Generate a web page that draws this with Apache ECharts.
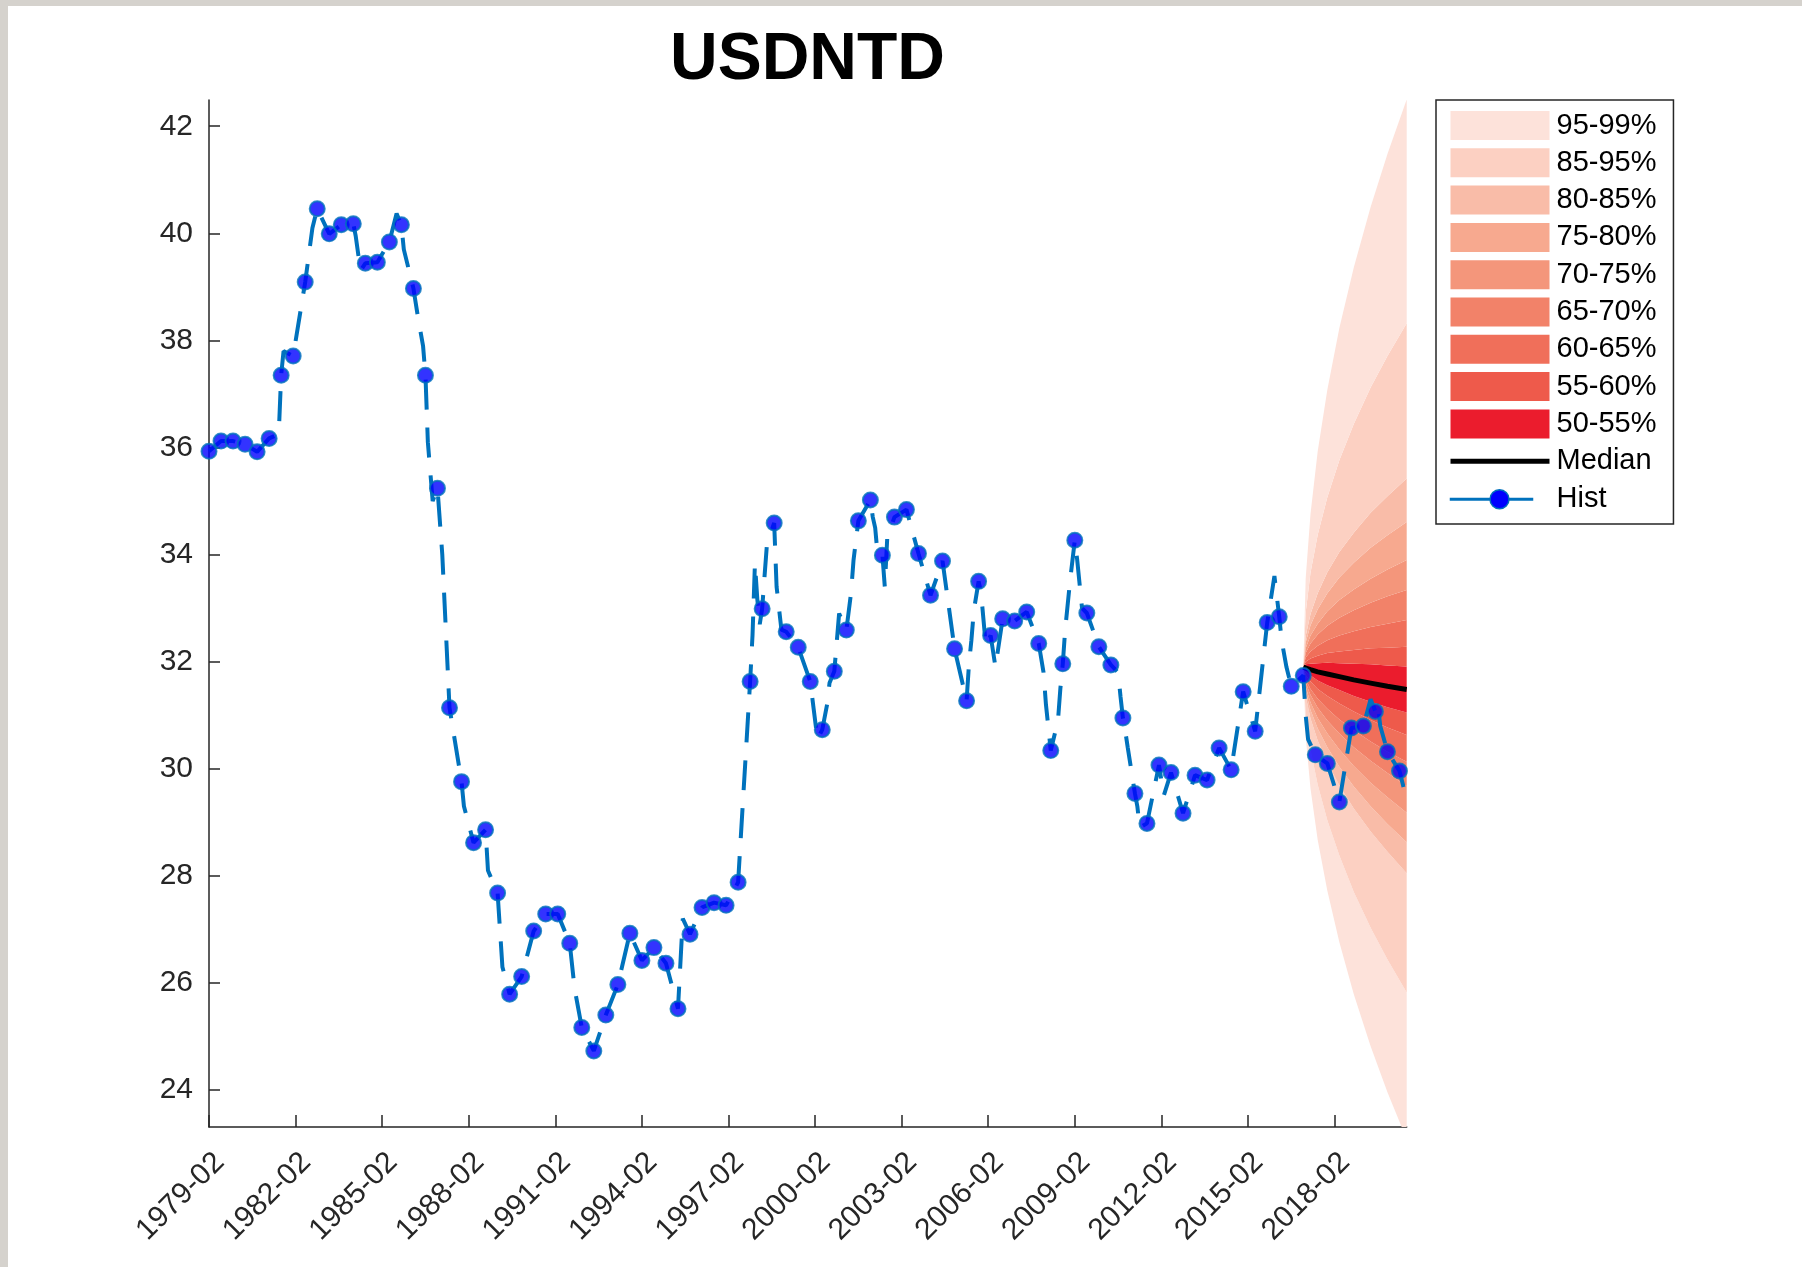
<!DOCTYPE html>
<html><head><meta charset="utf-8">
<script src="https://cdn.jsdelivr.net/npm/echarts@6/dist/echarts.min.js"></script>
<style>
html,body{margin:0;padding:0;background:#d5d2cd;width:1802px;height:1267px;overflow:hidden}
#c{position:absolute;left:8px;top:6px;width:1794px;height:1261px;background:#fff}
</style></head><body><div id="c"></div>
<script>
// ---------- DATA ----------
const titleText = 'USDNTD';
const axisStartDate = '1979-02';
const axisEndDate = '2020-08';
const xTickDates = ['1979-02','1982-02','1985-02','1988-02','1991-02','1994-02','1997-02','2000-02','2003-02','2006-02','2009-02','2012-02','2015-02','2018-02'];
const yTicks = [24,26,28,30,32,34,36,38,40,42];

// Historical series: marked observations every 5 months from 1979-02
const histMarkerStart = '1979-02';
const histMarkerStepMonths = 5;
const histMarkerValues = [
  35.93,36.12,36.12,36.06,35.92,36.17,37.35,37.71,39.09,40.46,
  39.99,40.16,40.18,39.44,39.46,39.84,40.16,38.97,37.35,35.24,
  31.14,29.76,28.62,28.86,27.68,25.79,26.12,26.97,27.29,27.29,
  26.74,25.17,24.73,25.40,25.97,26.93,26.42,26.66,26.37,25.52,
  26.91,27.41,27.50,27.45,27.88,31.63,32.99,34.59,32.56,32.27,
  31.63,30.73,31.82,32.59,34.63,35.02,33.99,34.70,34.84,34.02,
  33.24,33.88,32.24,31.27,33.50,32.49,32.80,32.76,32.93,32.34,
  30.34,31.96,34.27,32.91,32.28,31.94,30.95,29.54,28.98,30.07,
  29.93,29.17,29.88,29.79,30.39,29.98,31.44,30.70,32.73,32.84,
  31.54,31.74,30.26,30.10,29.38,30.76,30.80,31.07,30.32,29.96
];
// Historical series: other monthly observations visible on the line
const histExtraDates = ['1981-07','1981-09','1982-09','1984-03','1984-05','1985-08','1985-11','1986-05','1986-07','1986-09','1986-11','1987-03','1987-12','1988-10','1989-04','1991-10','1995-07',
  '1997-12','1998-01','1998-02','1998-03','1998-05','1998-06','1998-10','1998-11','1998-12','2000-03','2000-07','2000-08','2000-12','2001-05','2001-06','2002-02','2002-03','2002-04','2002-07','2002-08',
  '2005-06','2005-07','2005-08','2005-11','2006-01','2006-05','2008-01','2008-02','2008-07','2008-08','2008-10','2008-12','2009-03','2009-05',
  '2010-08','2010-09','2010-11','2010-12','2011-04','2011-05','2012-03','2016-01','2016-04','2016-06','2017-02','2017-03','2019-05','2019-08','2019-09','2020-07','2020-08'];
const histExtraValues = [36.25,37.8,40.1,39.95,39.3,40.37,39.7,38.4,37.9,36.1,35.0,34.0,29.3,28.1,26.3,25.9,27.2,
  32.5,33.84,33.16,32.7,33.6,34.2,33.4,33.0,32.6,30.55,31.2,31.6,32.9,33.3,33.9,34.7,34.5,34.0,33.4,34.3,
  31.96,32.4,32.95,33.3,32.3,31.9,31.8,31.2,30.9,31.5,32.6,33.5,33.9,33.0,
  31.8,31.35,30.7,30.4,29.3,28.9,29.5,33.6,32.4,31.9,31.0,30.55,31.3,31.2,30.8,29.6,29.5];

// Forecast fan
const fcDates  = ['2017-01','2017-02','2017-04','2017-07','2017-11','2018-04','2018-10','2019-05','2019-12','2020-08'];
const fcMedian = [31.90,31.88,31.85,31.81,31.77,31.72,31.66,31.60,31.54,31.48];
const fcLower99 = [31.90,30.60,29.63,28.67,27.72,26.76,25.79,24.82,23.96,23.08];
const fcLower95 = [31.90,31.02,30.36,29.70,29.04,28.38,27.70,27.03,26.44,25.82];
const fcLower85 = [31.90,31.36,30.94,30.53,30.12,29.69,29.26,28.83,28.45,28.05];
const fcLower80 = [31.90,31.45,31.10,30.75,30.40,30.04,29.67,29.30,28.97,28.63];
const fcLower75 = [31.90,31.53,31.24,30.95,30.66,30.36,30.05,29.74,29.47,29.18];
const fcLower70 = [31.90,31.61,31.38,31.14,30.90,30.66,30.40,30.15,29.92,29.68];
const fcLower65 = [31.90,31.67,31.49,31.31,31.12,30.92,30.72,30.51,30.32,30.13];
const fcLower60 = [31.90,31.75,31.63,31.49,31.36,31.22,31.07,30.91,30.77,30.63];
const fcLower55 = [31.90,31.81,31.74,31.65,31.56,31.47,31.36,31.25,31.15,31.05];
const fcUpper55 = [31.90,31.95,31.96,31.97,31.98,31.97,31.96,31.95,31.93,31.91];
const fcUpper60 = [31.90,32.00,32.06,32.11,32.16,32.19,32.22,32.25,32.26,32.28];
const fcUpper65 = [31.90,32.08,32.19,32.30,32.40,32.49,32.57,32.65,32.71,32.78];
const fcUpper70 = [31.90,32.16,32.34,32.51,32.67,32.82,32.96,33.10,33.22,33.34];
const fcUpper75 = [31.90,32.25,32.49,32.71,32.94,33.15,33.35,33.55,33.72,33.90];
const fcUpper80 = [31.90,32.36,32.68,32.98,33.28,33.57,33.85,34.13,34.36,34.61];
const fcUpper85 = [31.90,32.48,32.89,33.28,33.67,34.05,34.41,34.78,35.09,35.42];
const fcUpper95 = [31.90,32.92,33.66,34.37,35.07,35.76,36.44,37.12,37.71,38.32];
const fcUpper99 = [31.90,33.56,34.76,35.93,37.08,38.23,39.36,40.49,41.48,42.50];

const bandNames  = ['95-99%','85-95%','80-85%','75-80%','70-75%','65-70%','60-65%','55-60%','50-55%'];
const bandColors = ['#fde2da','#fcd0c2','#f9bca8','#f7a98f','#f4967b','#f28269','#f06f5a','#ee5a4b','#eb1c2d'];

// ---------- BUILD ----------
const FONT = '"Liberation Sans", Arial, Helvetica, sans-serif';
const AX = '#262626';
function toIdx(s){const p=s.split('-').map(Number);return (p[0]-1979)*12+(p[1]-2);}
function toDate(i){const t=Math.round(i)+1;const y=1979+Math.floor(t/12);const m=t%12+1;return y+'-'+(m<10?'0':'')+m;}

const markerStartIdx = toIdx(histMarkerStart);
const markerPts = histMarkerValues.map((v,i)=>[markerStartIdx+i*histMarkerStepMonths, v]);
const linePts = markerPts.concat(histExtraDates.map((d,i)=>[toIdx(d), histExtraValues[i]])).sort((a,b)=>a[0]-b[0]);

const fcX = fcDates.map(toIdx);
const bounds = [fcLower99,fcLower95,fcLower85,fcLower80,fcLower75,fcLower70,fcLower65,fcLower60,fcLower55,
                fcUpper55,fcUpper60,fcUpper65,fcUpper70,fcUpper75,fcUpper80,fcUpper85,fcUpper95,fcUpper99];
const gapBand = [0,1,2,3,4,5,6,7,8,7,6,5,4,3,2,1,0];

// Stacked fan: value first in each row so the stack runs along y
const series = [];
series.push({
  type:'line', name:'_base', stack:'fan', symbol:'none', silent:true, encode:{x:1, y:0},
  lineStyle:{width:0, opacity:0}, data: fcX.map((x,j)=>[bounds[0][j], x]), z:1
});
gapBand.forEach((b,k)=>{
  series.push({
    type:'line', name:bandNames[b], stack:'fan', symbol:'none', silent:true, encode:{x:1, y:0},
    color:bandColors[b], itemStyle:{color:bandColors[b]},
    lineStyle:{width:0, opacity:0},
    areaStyle:{color:bandColors[b], opacity:1},
    data: fcX.map((x,j)=>[+(bounds[k+1][j]-bounds[k][j]).toFixed(4), x]), z:1
  });
});
series.push({
  type:'line', name:'Median', symbol:'none', silent:true,
  color:'#000', lineStyle:{color:'#000', width:5},
  data: fcX.map((x,j)=>[x,fcMedian[j]]), z:3
});
series.push({
  type:'line', name:'Hist', symbol:'none', silent:true,
  color:'#0072bd', lineStyle:{color:'#0072bd', width:4, type:[30,18]},
  data: linePts, z:4
});
series.push({
  type:'scatter', name:'Hist', symbol:'circle', symbolSize:15, silent:true,
  itemStyle:{color:'#0000ff', borderColor:'#0072bd', borderWidth:2},
  data: markerPts, z:5
});

// Legend icon for Hist: short line with a circle (99x29 box; zero-length corner subpaths fix the box)
const histIcon = 'path://M0,0 L0,0 M99,29 L99,29 ' +
  'M0,13.8 L39.6,13.8 L39.6,15.2 L0,15.2 Z M58.4,13.8 L82,13.8 L82,15.2 L58.4,15.2 Z ' +
  'M58.5,14.5 A9.5,9.5 0 1 1 39.5,14.5 A9.5,9.5 0 1 1 58.5,14.5 Z';
const legendData = bandNames.map(n=>({name:n, icon:'rect'}));
legendData.push({name:'Median', itemStyle:{opacity:0}, lineStyle:{width:5, color:'#000'}});
legendData.push({name:'Hist', icon:histIcon, itemStyle:{color:'#0000ff', borderColor:'#0072bd', borderWidth:1.5}});

const chart = echarts.init(document.getElementById('c'), null, {renderer:'canvas'});
chart.setOption({
  animation:false,
  backgroundColor:'#fff',
  title:{text:titleText, left:799.5, top:22, textAlign:'center', padding:0,
    textStyle:{fontSize:66, fontWeight:'bold', color:'#000', fontFamily:FONT, lineHeight:66}},
  legend:{
    data:legendData, orient:'vertical', left:1428, top:94,
    itemWidth:99, itemHeight:29, itemGap:8.3,
    padding:[11,17,9.5,12], borderColor:AX, borderWidth:1.5, backgroundColor:'#fff',
    textStyle:{fontSize:29, color:'#000', fontFamily:FONT, lineHeight:29, padding:[0,0,0,2]},
    selectedMode:false
  },
  grid:{left:201, top:94, right:395.3, bottom:140, containLabel:false, outerBoundsMode:'none'},
  xAxis:{
    type:'value', min:toIdx(axisStartDate), max:toIdx(axisEndDate),
    axisLine:{show:true, onZero:false, lineStyle:{color:AX, width:1.5}},
    axisTick:{show:true, inside:true, length:12, lineStyle:{color:AX, width:1.5}, customValues:xTickDates.map(toIdx)},
    axisLabel:{show:true, rotate:45, margin:20, verticalAlign:'top', fontSize:30, color:AX, fontFamily:FONT,
      customValues:xTickDates.map(toIdx), formatter:(v)=>toDate(v)},
    splitLine:{show:false}
  },
  yAxis:{
    type:'value', min:23.31, max:42.49,
    axisLine:{show:true, onZero:false, lineStyle:{color:AX, width:1.5}},
    axisTick:{show:true, inside:true, length:11, lineStyle:{color:AX, width:1.5}, customValues:yTicks},
    axisLabel:{show:true, margin:16, fontSize:30, color:AX, fontFamily:FONT, customValues:yTicks},
    splitLine:{show:false}
  },
  series:series
});
</script></body></html>
